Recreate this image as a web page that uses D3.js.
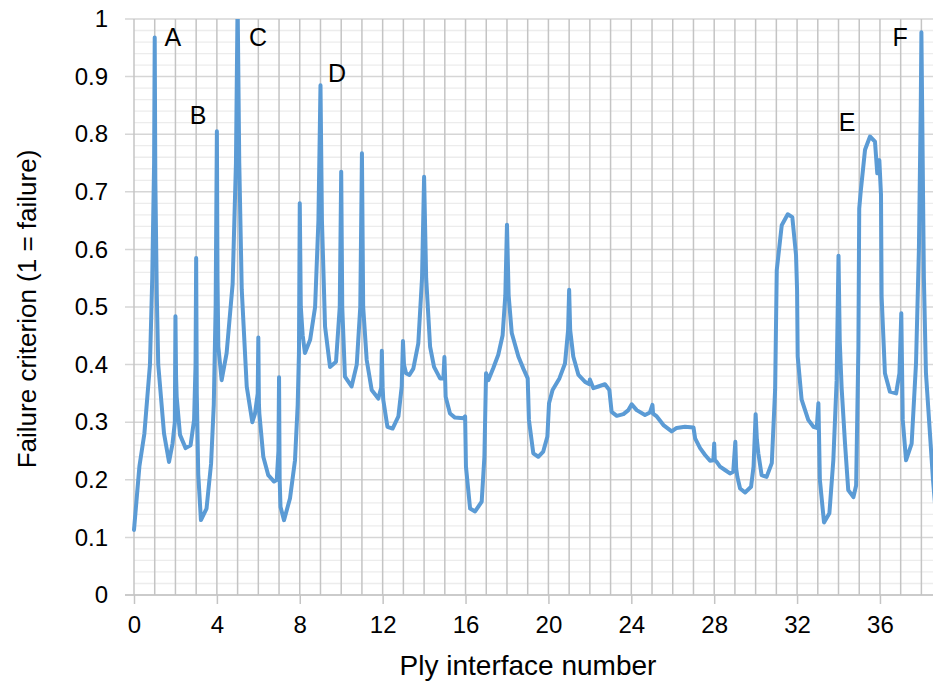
<!DOCTYPE html>
<html>
<head>
<meta charset="utf-8">
<script src="https://cdn.jsdelivr.net/npm/d3@7"></script>
<style>
  body { margin: 0; background: #fff; }
  svg { display: block; font-family: "Liberation Sans", Arial, sans-serif; }
</style>
</head>
<body>
<div id="chart"></div>
<script>
// failure criterion along the laminate, [ply interface position, value]
const failureCurve = [
  [0, 0.113], [0.26, 0.223], [0.5, 0.28], [0.77, 0.40], [0.88, 0.55], [0.97, 0.75], [1.0, 0.968], [1.03, 0.72], [1.1, 0.52], [1.17, 0.40],
  [1.45, 0.28], [1.69, 0.231], [1.86, 0.263], [1.97, 0.30], [2.0, 0.484], [2.03, 0.38], [2.06, 0.344], [2.22, 0.278], [2.49, 0.255], [2.73, 0.26],
  [2.9, 0.304], [2.97, 0.40], [3.0, 0.585], [3.03, 0.35], [3.1, 0.21], [3.23, 0.13], [3.5, 0.15], [3.72, 0.228], [3.85, 0.33], [3.94, 0.5],
  [4.0, 0.805], [4.03, 0.55], [4.07, 0.431], [4.23, 0.373], [4.47, 0.42], [4.76, 0.54], [4.92, 0.75], [5.0, 1.03], [5.08, 0.75], [5.2, 0.53],
  [5.44, 0.362], [5.71, 0.30], [5.84, 0.315], [5.97, 0.35], [6.0, 0.447], [6.03, 0.33], [6.05, 0.315], [6.24, 0.24], [6.48, 0.208], [6.76, 0.197],
  [6.89, 0.20], [6.97, 0.25], [7.0, 0.378], [7.03, 0.2], [7.07, 0.153], [7.24, 0.13], [7.53, 0.168], [7.77, 0.234], [7.9, 0.33], [7.96, 0.42],
  [8.0, 0.68], [8.05, 0.5], [8.14, 0.451], [8.25, 0.42], [8.5, 0.443], [8.74, 0.50], [8.9, 0.65], [9.0, 0.885], [9.07, 0.65], [9.22, 0.466],
  [9.46, 0.396], [9.75, 0.405], [9.93, 0.5], [10.0, 0.735], [10.05, 0.5], [10.18, 0.379], [10.5, 0.362], [10.75, 0.40], [10.92, 0.5], [11.0, 0.767],
  [11.06, 0.5], [11.23, 0.408], [11.47, 0.356], [11.79, 0.341], [11.93, 0.36], [11.96, 0.424], [12.0, 0.36], [12.03, 0.339], [12.23, 0.292], [12.48, 0.289],
  [12.76, 0.31], [12.92, 0.362], [12.98, 0.441], [13.03, 0.40], [13.13, 0.385], [13.29, 0.382], [13.48, 0.393], [13.72, 0.437], [13.9, 0.55], [14.0, 0.726],
  [14.1, 0.55], [14.29, 0.431], [14.48, 0.396], [14.77, 0.376], [14.93, 0.376], [14.98, 0.413], [15.02, 0.37], [15.04, 0.344], [15.25, 0.315], [15.49, 0.308],
  [15.9, 0.307], [15.98, 0.31], [16.02, 0.223], [16.22, 0.15], [16.46, 0.145], [16.78, 0.162], [16.91, 0.24], [16.99, 0.385], [17.1, 0.373], [17.34, 0.394],
  [17.58, 0.417], [17.79, 0.451], [17.92, 0.52], [18.0, 0.643], [18.08, 0.52], [18.23, 0.455], [18.55, 0.414], [18.79, 0.393], [19.0, 0.376], [19.06, 0.304],
  [19.27, 0.246], [19.51, 0.24], [19.75, 0.249], [19.95, 0.275], [20.03, 0.333], [20.2, 0.356], [20.53, 0.376], [20.8, 0.402], [20.95, 0.46], [21.0, 0.53],
  [21.05, 0.46], [21.2, 0.414], [21.45, 0.382], [21.77, 0.37], [21.98, 0.366], [22.0, 0.374], [22.17, 0.359], [22.41, 0.362], [22.73, 0.366], [22.94, 0.356],
  [23.05, 0.318], [23.3, 0.311], [23.62, 0.314], [23.86, 0.321], [24.02, 0.331], [24.26, 0.321], [24.66, 0.3125], [24.9, 0.317], [25.02, 0.33], [25.05, 0.315],
  [25.23, 0.31], [25.55, 0.295], [25.95, 0.284], [26.19, 0.29], [26.59, 0.292], [27.0, 0.291], [27.08, 0.272], [27.32, 0.255], [27.56, 0.243], [27.8, 0.233],
  [27.96, 0.234], [28.0, 0.263], [28.03, 0.235], [28.12, 0.231], [28.28, 0.223], [28.52, 0.217], [28.76, 0.211], [28.92, 0.214], [29.02, 0.266], [29.06, 0.22],
  [29.12, 0.205], [29.25, 0.185], [29.49, 0.178], [29.78, 0.188], [29.9, 0.223], [30.0, 0.314], [30.06, 0.27], [30.13, 0.246], [30.29, 0.208], [30.53, 0.205],
  [30.78, 0.229], [30.94, 0.356], [31.02, 0.564], [31.26, 0.642], [31.55, 0.661], [31.77, 0.656], [31.95, 0.59], [32.0, 0.53], [32.03, 0.414], [32.22, 0.339],
  [32.54, 0.304], [32.79, 0.292], [32.95, 0.29], [33.03, 0.333], [33.1, 0.2], [33.3, 0.126], [33.56, 0.142], [33.75, 0.234], [33.91, 0.373], [34.0, 0.589],
  [34.06, 0.44], [34.15, 0.36], [34.31, 0.265], [34.47, 0.182], [34.72, 0.17], [34.85, 0.19], [34.96, 0.431], [35.0, 0.671], [35.07, 0.70], [35.28, 0.773],
  [35.52, 0.796], [35.76, 0.787], [35.87, 0.732], [35.97, 0.755], [36.05, 0.695], [36.08, 0.518], [36.24, 0.385], [36.48, 0.353], [36.78, 0.35], [36.94, 0.385],
  [37.03, 0.489], [37.1, 0.304], [37.26, 0.234], [37.53, 0.263], [37.74, 0.402], [37.88, 0.6], [37.97, 0.85], [38.0, 0.977], [38.05, 0.8], [38.12, 0.55],
  [38.22, 0.385], [38.56, 0.2], [38.7, 0.14]
];

// x axis labels every 4 interfaces, gridlines every interface
const xTickValues = [0, 4, 8, 12, 16, 20, 24, 28, 32, 36];
const xGridValues = d3.range(0, 39);
const yTickValues = [0, 0.1, 0.2, 0.3, 0.4, 0.5, 0.6, 0.7, 0.8, 0.9, 1];
const yTickLabels = ["0", "0.1", "0.2", "0.3", "0.4", "0.5", "0.6", "0.7", "0.8", "0.9", "1"];
const yMinorValues = d3.range(0, 50).map(i => i * 0.02).filter((v, i) => i % 5 !== 0);

// peak labels
const peakNames = ["A", "B", "C", "D", "E", "F"];
const peakX = [1.88, 3.09, 5.98, 9.8, 34.41, 36.97];
const peakY = [0.969, 0.833, 0.969, 0.906, 0.821, 0.969];

const width = 933;
const height = 686;
const margin = { top: 19, right: 0, bottom: 91, left: 134 };

const svg = d3.select("#chart")
  .append("svg")
  .attr("width", width)
  .attr("height", height);

const xScale = d3.scaleLinear()
  .domain([0, 38.56])
  .range([margin.left, width - margin.right]);

const yScale = d3.scaleLinear()
  .domain([0, 1])
  .range([height - margin.bottom, margin.top]);

// minor horizontal gridlines
svg.append("g")
  .selectAll("line")
  .data(yMinorValues)
  .enter()
  .append("line")
  .attr("x1", xScale(0))
  .attr("x2", width)
  .attr("y1", d => yScale(d))
  .attr("y2", d => yScale(d))
  .attr("stroke", "#ececec")
  .attr("stroke-width", 1.3);

// major horizontal gridlines, sticking out left as tick marks
svg.append("g")
  .selectAll("line")
  .data(yTickValues)
  .enter()
  .append("line")
  .attr("x1", xScale(0) - 9)
  .attr("x2", width)
  .attr("y1", d => yScale(d))
  .attr("y2", d => yScale(d))
  .attr("stroke", "#d6d6d6")
  .attr("stroke-width", 1.5);

// vertical gridlines at every interface
svg.append("g")
  .selectAll("line")
  .data(xGridValues)
  .enter()
  .append("line")
  .attr("x1", d => xScale(d))
  .attr("x2", d => xScale(d))
  .attr("y1", yScale(1))
  .attr("y2", yScale(0))
  .attr("stroke", "#c4c4c4")
  .attr("stroke-width", 1.5);

// x axis
const xAxis = svg.append("g")
  .attr("transform", `translate(0,${yScale(0)})`)
  .call(d3.axisBottom(xScale)
    .tickValues(xTickValues)
    .tickFormat(d3.format("d"))
    .tickSize(9)
    .tickPadding(12));
xAxis.select(".domain").remove();
xAxis.selectAll(".tick line").attr("stroke", "#c4c4c4").attr("stroke-width", 1.5);
xAxis.selectAll(".tick text")
  .attr("font-size", 24)
  .attr("font-family", "Liberation Sans, Arial, sans-serif")
  .attr("fill", "#000");
svg.append("line")
  .attr("x1", xScale(0) - 9)
  .attr("x2", width)
  .attr("y1", yScale(0))
  .attr("y2", yScale(0))
  .attr("stroke", "#c4c4c4")
  .attr("stroke-width", 1.5);

// y axis labels
const yAxis = svg.append("g")
  .attr("transform", `translate(${xScale(0)},0)`)
  .call(d3.axisLeft(yScale)
    .tickValues(yTickValues)
    .tickFormat((d, i) => yTickLabels[i])
    .tickSize(0)
    .tickPadding(26));
yAxis.select(".domain").remove();
yAxis.selectAll(".tick text")
  .attr("font-size", 24)
  .attr("font-family", "Liberation Sans, Arial, sans-serif")
  .attr("fill", "#000");

// clip the curve to the plot area
svg.append("clipPath")
  .attr("id", "plot-clip")
  .append("rect")
  .attr("x", xScale(0) - 5)
  .attr("y", yScale(1))
  .attr("width", width - xScale(0) + 5)
  .attr("height", yScale(0) - yScale(1) + 5);

const line = d3.line()
  .x(d => xScale(d[0]))
  .y(d => yScale(d[1]));

svg.append("path")
  .datum(failureCurve)
  .attr("clip-path", "url(#plot-clip)")
  .attr("fill", "none")
  .attr("stroke", "#5b9bd5")
  .attr("stroke-width", 4)
  .attr("stroke-linejoin", "round")
  .attr("stroke-linecap", "round")
  .attr("d", line);

// peak letters
svg.append("g")
  .selectAll("text")
  .data(peakNames)
  .enter()
  .append("text")
  .attr("x", (d, i) => xScale(peakX[i]))
  .attr("y", (d, i) => yScale(peakY[i]))
  .attr("dy", "0.36em")
  .attr("text-anchor", "middle")
  .attr("font-size", 25)
  .text(d => d);

// axis titles
svg.append("text")
  .attr("x", 528)
  .attr("y", 675)
  .attr("text-anchor", "middle")
  .attr("font-size", 28)
  .text("Ply interface number");

svg.append("text")
  .attr("transform", `translate(36,${(yScale(0) + yScale(1)) / 2 + 2}) rotate(-90)`)
  .attr("text-anchor", "middle")
  .attr("font-size", 26)
  .text("Failure criterion (1 = failure)");
</script>
</body>
</html>
